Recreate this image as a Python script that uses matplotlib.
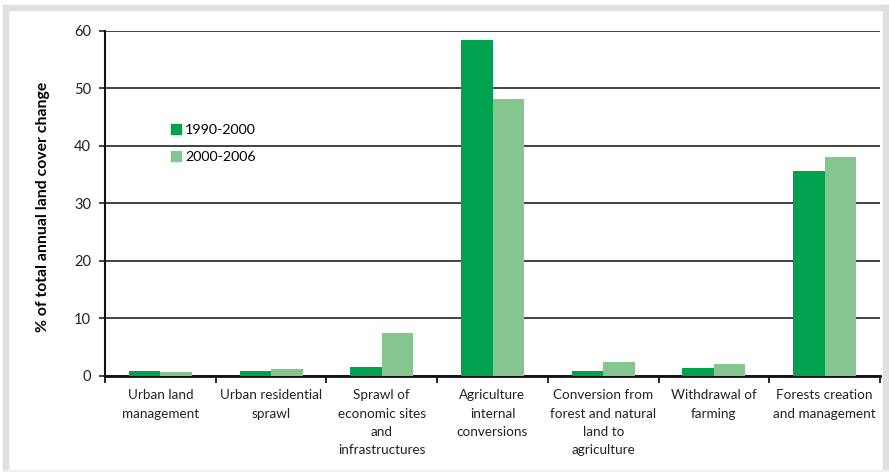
import matplotlib
matplotlib.use("Agg")
import matplotlib.pyplot as plt
from matplotlib.patches import Rectangle, Patch
import numpy as np

categorias = ["Urban land\nmanagement", "Urban residential\nsprawl",
              "Sprawl of\neconomic sites\nand\ninfrastructures",
              "Agriculture\ninternal\nconversions",
              "Conversion from\nforest and natural\nland to\nagriculture",
              "Withdrawal of\nfarming", "Forests creation\nand management"]
valores_1990 = [0.85, 0.75, 1.45, 58.4, 0.75, 1.3, 35.6]
valores_2000 = [0.6, 1.15, 7.4, 48.1, 2.35, 2.0, 38.1]
series = ["1990-2000", "2000-2006"]

verde_escuro = "#00a14f"
verde_claro = "#85c58f"

plt.rcParams['font.family'] = ['Lato', 'DejaVu Sans']

fig = plt.figure(figsize=(8.89, 4.72), dpi=100)
fig.patch.set_facecolor("white")
# moldura cinza
fig.patches.append(Rectangle((3/889, 0), 5/889, 1 - 5/472, transform=fig.transFigure, color="#e0e0e0", zorder=0))
fig.patches.append(Rectangle((3/889, 1 - 10/472), 1, 5/472, transform=fig.transFigure, color="#e0e0e0", zorder=0))
fig.patches.append(Rectangle((883/889, 0), 6/889, 1 - 5/472, transform=fig.transFigure, color="#e0e0e0", zorder=0))
fig.patches.append(Rectangle((3/889, 0), 1, 2/472, transform=fig.transFigure, color="#efefef", zorder=0))

ax = fig.add_axes([105/889, 1 - 375.5/472, 775/889, 344.5/472])
x = np.arange(len(categorias))
w = 0.285
ax.bar(x - w/2, valores_1990, w, color=verde_escuro, zorder=3)
ax.bar(x + w/2, valores_2000, w, color=verde_claro, zorder=3)

ax.set_xlim(-0.5, len(categorias) - 0.5)
ax.set_ylim(0, 60)
ax.set_yticks(range(0, 61, 10))
ax.yaxis.grid(True, color="#222222", linewidth=1.2, zorder=1)
ax.set_axisbelow(True)
for s in ["top", "right"]:
    ax.spines[s].set_visible(False)
ax.spines["left"].set_linewidth(1.5)
ax.spines["bottom"].set_linewidth(2)
ax.spines["left"].set_color("#111111")
ax.spines["bottom"].set_color("#111111")

ax.set_xticks(np.arange(len(categorias) + 1) - 0.5, minor=False)
ax.set_xticklabels([])
ax.set_xticks(x, minor=True)
ax.set_xticklabels(categorias, minor=True, fontsize=9.7, color="#222222", linespacing=1.62)
ax.tick_params(axis="x", which="major", length=5, width=1.2, direction="out")
ax.tick_params(axis="x", which="minor", length=0, pad=10)
ax.tick_params(axis="y", length=4, width=1.2, labelsize=10.5, colors="#222222", pad=6)
ax.set_ylabel("% of total annual land cover change", fontsize=11.3, fontweight="bold")
ax.yaxis.set_label_coords(-0.071, 0.489)

handles = [Patch(color=verde_escuro), Patch(color=verde_claro)]
ax.legend(handles, series, loc="upper left", bbox_to_anchor=(0.085, 0.731), frameon=False,
          borderpad=0, borderaxespad=0,
          fontsize=10.3, handlelength=0.7, handleheight=0.7, handletextpad=0.3, labelspacing=1.1)

fig.savefig("out.png", dpi=100)
